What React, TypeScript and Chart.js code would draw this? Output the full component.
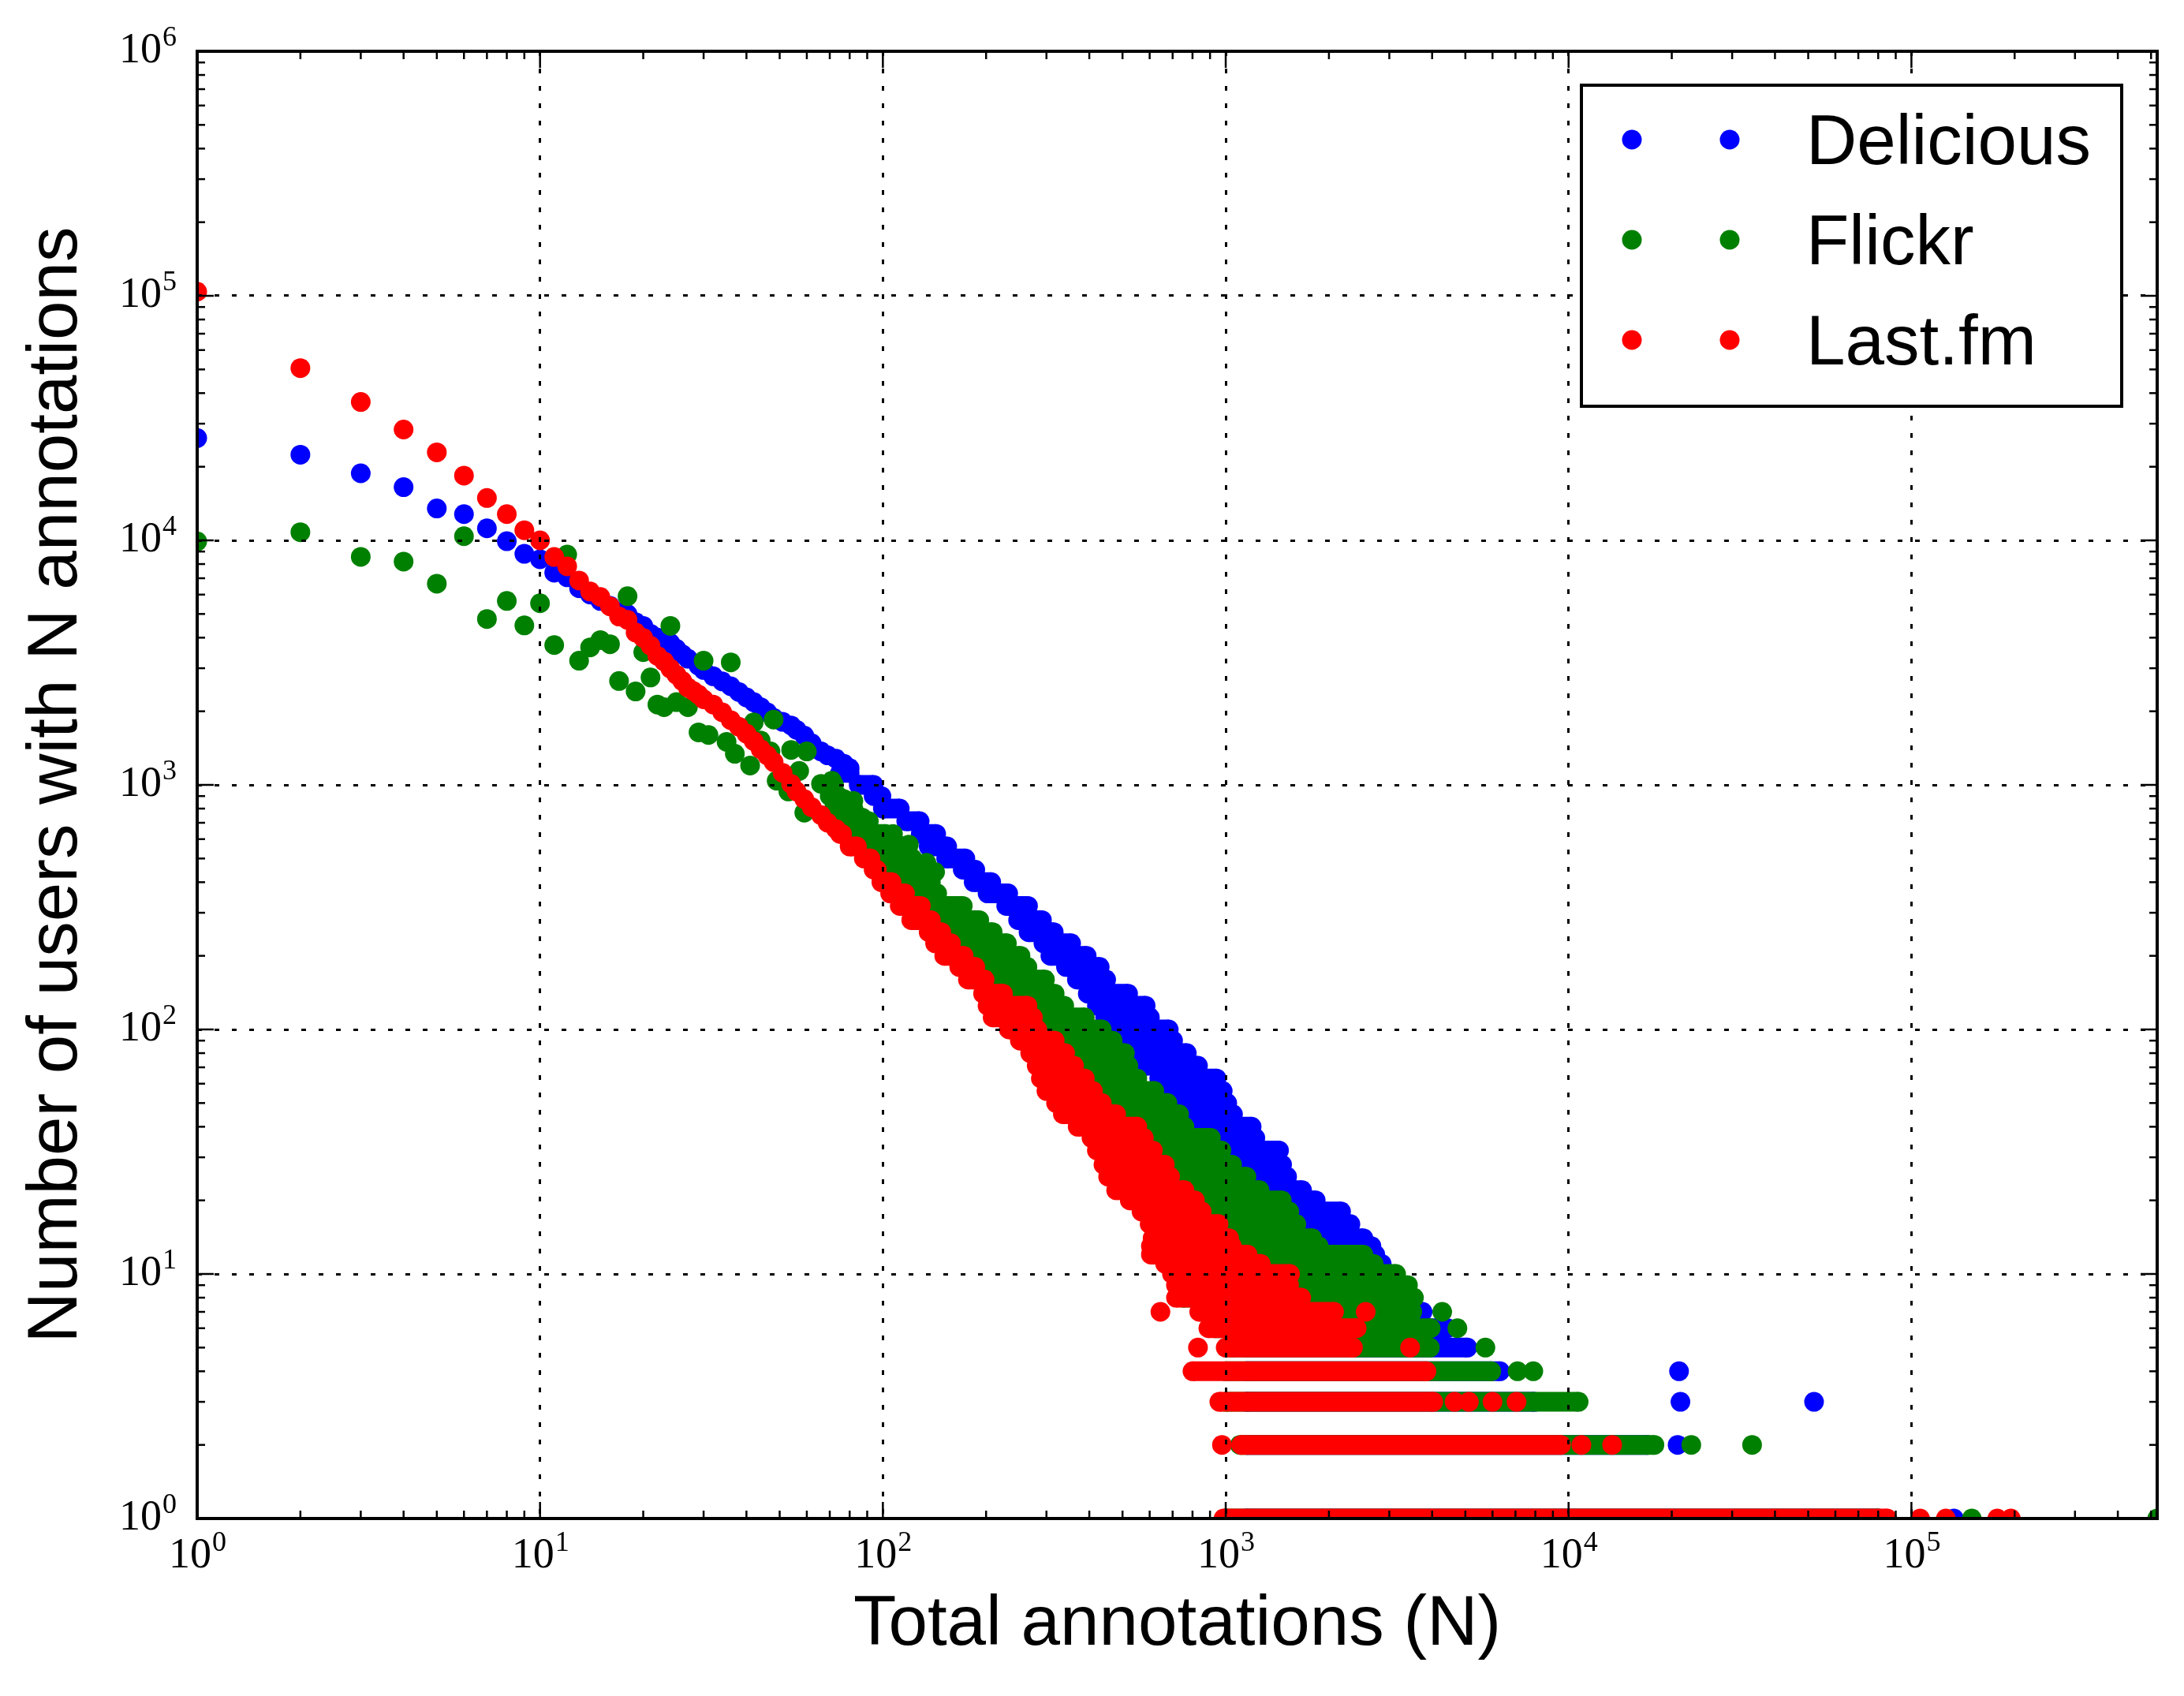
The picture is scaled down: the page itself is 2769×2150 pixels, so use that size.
import { useEffect, useRef } from 'react';
import Chart from 'chart.js/auto';

// [N, users] for single points, [users, first N, last N] for runs of neighbouring N with the same count
type Pt = [number, number];
type Run = [number, number, number];

const seriesNames = ['Delicious', 'Flickr', 'Last.fm'];
const seriesColors = ['#0000ff', '#008000', '#ff0000'];

const xDecades = [0, 1, 2, 3, 4, 5];
const yDecades = [0, 1, 2, 3, 4, 5, 6];
const xMax = 521000;
const yMax = 1e6;

const xTitle = 'Total annotations (N)';
const yTitle = 'Number of users with N annotations';

const deliciousPoints: Pt[] = [
  [1, 26200], [2, 22400], [3, 18800], [4, 16500], [5, 13500], [6, 12800], [7, 11200], [8, 9920],
  [9, 8810], [10, 8370], [11, 7380], [12, 7060], [13, 6370], [14, 6000], [15, 5650], [16, 5400],
  [17, 5100], [18, 4990], [19, 4630], [20, 4470], [21, 4150], [22, 4000], [23, 3900], [24, 3800],
  [25, 3600], [26, 3420], [27, 3280], [29, 3070], [30, 2950], [32, 2780], [34, 2650], [36, 2530],
  [38, 2400], [40, 2280], [42, 2180], [44, 2080], [46, 1980], [48, 1880], [51, 1810], [54, 1750],
  [56, 1680], [59, 1590], [62, 1480], [66, 1370], [69, 1320], [73, 1280], [77, 1220], [80, 1170],
  [21000, 4], [21200, 3], [52000, 3], [20800, 2], [133000, 1],
];

const deliciousRuns: Run[] = [
  [1120, 75, 80], [1000, 85, 94], [900, 94, 99], [800, 100, 112], [710, 117, 128], [630, 129, 143],
  [560, 136, 154], [500, 153, 174], [450, 171, 186], [400, 184, 207], [360, 202, 232], [320, 229, 265],
  [280, 248, 291], [250, 266, 315], [225, 294, 354], [200, 308, 393], [180, 342, 429], [160, 368, 448],
  [140, 396, 519], [125, 421, 584], [112, 445, 601], [100, 483, 682], [90, 513, 702], [80, 536, 770],
  [71, 581, 830], [63, 640, 940], [56, 700, 980], [50, 750, 1010], [45, 800, 1050], [40, 850, 1190],
  [36, 900, 1220], [32, 950, 1430], [28, 1000, 1460], [25, 1050, 1510], [22, 1100, 1670], [20, 1150, 1830],
  [18, 1150, 2170], [16, 1150, 2310], [14, 1150, 2520], [13, 1150, 2660], [12, 1150, 2730], [11, 1150, 2850],
  [10, 1150, 3000], [9, 1150, 3100], [8, 1150, 3300], [7, 1150, 3750], [6, 1150, 4440], [5, 1150, 5070],
  [4, 1150, 6310], [3, 1150, 7950], [2, 1150, 17000], [1, 1150, 80000],
];

const flickrPoints: Pt[] = [
  [1, 9900], [2, 10800], [3, 8560], [4, 8190], [5, 6650], [6, 10400], [7, 4770], [8, 5650],
  [9, 4490], [10, 5530], [11, 3730], [12, 8750], [13, 3220], [14, 3650], [15, 3910], [16, 3760],
  [17, 2660], [18, 5910], [19, 2410], [20, 3490], [21, 2750], [22, 2130], [23, 2080], [24, 4470],
  [25, 2180], [27, 2080], [29, 1640], [30, 3220], [31, 1600], [35, 1500], [36, 3170], [37, 1340],
  [41, 1200], [42, 1800], [44, 1520], [47, 1370], [48, 1850], [49, 1040], [53, 940], [54, 1390],
  [57, 1140], [59, 770], [60, 1370], [66, 1010], [71, 1040], [77, 875], [82, 860], [87, 735],
  [91, 650], [107, 630], [119, 570], [134, 480], [142, 440],
  [5720, 5], [4740, 6], [4280, 7], [7100, 4], [7890, 4], [22800, 2], [34300, 2], [150000, 1], [521000, 1],
];

const flickrRuns: Run[] = [
  [1000, 70, 72], [900, 70, 74], [800, 72, 82], [710, 76, 91], [630, 80, 102], [560, 84, 115],
  [500, 92, 122], [450, 97, 135], [400, 104, 138], [360, 110, 144], [320, 118, 171], [280, 128, 191],
  [250, 140, 209], [225, 150, 230], [200, 160, 252], [180, 175, 264], [160, 185, 297], [140, 205, 317],
  [125, 215, 338], [112, 225, 388], [100, 245, 435], [90, 265, 468], [80, 280, 508], [71, 295, 520],
  [63, 305, 552], [56, 315, 619], [50, 335, 676], [45, 350, 731], [40, 390, 758], [36, 425, 905],
  [32, 440, 971], [28, 460, 1043], [25, 475, 1149], [22, 500, 1255], [20, 550, 1457], [18, 595, 1532],
  [16, 630, 1607], [14, 640, 1787], [13, 635, 1867], [12, 635, 2520], [11, 700, 2700], [10, 730, 3140],
  [9, 750, 3400], [8, 750, 3540], [7, 870, 3500], [6, 930, 3960], [5, 1040, 3940], [4, 1000, 5950],
  [3, 1000, 10700], [2, 1100, 17800], [1, 1000, 80000],
];

const lastfmPoints: Pt[] = [
  [1, 104000], [2, 50600], [3, 36800], [4, 28400], [5, 22900], [6, 18400], [7, 14900], [8, 12800],
  [9, 11000], [10, 10000], [11, 8550], [12, 7830], [13, 6850], [14, 6180], [15, 5870], [16, 5370],
  [17, 4880], [18, 4730], [19, 4200], [20, 3990], [21, 3710], [22, 3370], [23, 3200], [24, 2990],
  [25, 2820], [26, 2660], [27, 2500], [28, 2420], [29, 2340], [30, 2240], [32, 2130], [34, 1980],
  [36, 1840], [38, 1730], [40, 1620], [42, 1510], [44, 1400], [46, 1320], [48, 1240], [51, 1120],
  [54, 1010], [56, 940], [59, 875], [62, 810], [66, 752], [69, 700], [73, 660],
  [975, 2], [10900, 2], [13400, 2], [830, 5], [3450, 5], [645, 7], [2560, 7],
  [4650, 3], [5120, 3], [6000, 3], [7050, 3], [106000, 1], [126000, 1], [178000, 1], [195000, 1],
];

const lastfmRuns: Run[] = [
  [630, 75, 76], [560, 80, 84], [500, 88, 92], [450, 94, 96], [400, 99, 106], [360, 105, 116],
  [320, 112, 129], [280, 121, 138], [250, 136, 148], [225, 142, 158], [200, 151, 172], [180, 167, 186],
  [160, 177, 198], [140, 196, 224], [125, 202, 264], [112, 209, 274], [100, 233, 282], [90, 251, 317],
  [80, 269, 340], [71, 281, 361], [63, 289, 388], [56, 300, 410], [50, 320, 435], [45, 335, 479],
  [40, 370, 552], [36, 406, 577], [32, 421, 613], [28, 440, 664], [25, 454, 688], [22, 479, 758],
  [20, 525, 813], [18, 568, 851], [16, 600, 953], [14, 612, 1023], [13, 605, 1042], [12, 605, 1158],
  [11, 666, 1265], [10, 697, 1540], [9, 716, 1530], [8, 716, 1660], [7, 837, 2070], [6, 890, 2410],
  [5, 1000, 2350], [4, 800, 3850], [3, 958, 4030], [2, 1110, 9500], [1, 985, 85000],
];

// points stand alone (null after each), runs are drawn as a stroke between their two end points
function toData(points: Pt[], runs: Run[]) {
  const out: { x: number; y: number | null }[] = [];
  for (const [n, c] of points) out.push({ x: n, y: c }, { x: n, y: null });
  for (const [c, lo, hi] of runs) out.push({ x: lo, y: c }, { x: hi, y: c }, { x: hi, y: null });
  return out;
}

const DOT = 12.5;
const SANS = 'Liberation Sans';
const SERIF = 'Liberation Serif';

const decorPlugin = {
  id: 'decor',
  afterDraw(chart: any) {
    const { ctx, chartArea: a } = chart;
    const xs = chart.scales.x;
    const ys = chart.scales.y;
    ctx.save();
    ctx.strokeStyle = '#000';
    ctx.setLineDash([]);

    const line = (x1: number, y1: number, x2: number, y2: number, w: number) => {
      ctx.lineWidth = w;
      ctx.beginPath();
      ctx.moveTo(x1, y1);
      ctx.lineTo(x2, y2);
      ctx.stroke();
    };

    // inward ticks on all four sides
    for (const e of xDecades) {
      for (let k = 1; k <= 9; k++) {
        const v = k * Math.pow(10, e);
        if (v > xMax) break;
        const x = xs.getPixelForValue(v);
        const len = k === 1 ? 21 : 10;
        line(x, a.bottom, x, a.bottom - len, 2.5);
        line(x, a.top, x, a.top + len, 2.5);
      }
    }
    for (const e of yDecades) {
      for (let k = 1; k <= 9; k++) {
        const v = k * Math.pow(10, e);
        if (v > yMax) break;
        const y = ys.getPixelForValue(v);
        const len = k === 1 ? 21 : 10;
        line(a.left, y, a.left + len, y, 2.5);
        line(a.right, y, a.right - len, y, 2.5);
      }
    }

    ctx.lineWidth = 4;
    ctx.strokeRect(a.left, a.top, a.right - a.left, a.bottom - a.top);

    // tick labels 10^k
    ctx.fillStyle = '#000';
    ctx.textBaseline = 'alphabetic';
    ctx.textAlign = 'left';
    const big = `54px "${SERIF}"`;
    const small = `36px "${SERIF}"`;
    const measure = (e: number) => {
      ctx.font = big;
      const w1 = ctx.measureText('10').width;
      ctx.font = small;
      const w2 = ctx.measureText(String(e)).width;
      return [w1, w2];
    };
    const label = (e: number, left: number, base: number) => {
      const [w1] = measure(e);
      ctx.font = big;
      ctx.fillText('10', left, base);
      ctx.font = small;
      ctx.fillText(String(e), left + w1 + 1, base - 21);
    };
    for (const e of xDecades) {
      const x = xs.getPixelForValue(Math.pow(10, e));
      const [w1, w2] = measure(e);
      label(e, x - (w1 + w2) / 2, a.bottom + 62);
    }
    for (const e of yDecades) {
      const y = ys.getPixelForValue(Math.pow(10, e));
      const [w1, w2] = measure(e);
      label(e, a.left - 27 - w1 - w2, y + 14);
    }

    // legend
    const box = { l: 2005, t: 108, r: 2690, b: 515 };
    ctx.fillStyle = '#fff';
    ctx.fillRect(box.l, box.t, box.r - box.l, box.b - box.t);
    ctx.lineWidth = 4;
    ctx.strokeRect(box.l, box.t, box.r - box.l, box.b - box.t);
    ctx.font = `89px "${SANS}"`;
    chart.data.datasets.forEach((ds: any, i: number) => {
      const y = 177 + i * 127;
      ctx.fillStyle = ds.backgroundColor;
      for (const x of [2069, 2193]) {
        ctx.beginPath();
        ctx.arc(x, y, DOT, 0, Math.PI * 2);
        ctx.fill();
      }
      ctx.fillStyle = '#000';
      ctx.fillText(ds.label, 2290, y + 31);
    });
    ctx.restore();
  },
};

function decadeTicks(decades: number[]) {
  return (scale: any) => {
    scale.ticks = decades.map((e) => ({ value: Math.pow(10, e), major: true }));
  };
}

export default function App() {
  const canvasRef = useRef<HTMLCanvasElement>(null);

  useEffect(() => {
    if (!canvasRef.current) return;
    document.body.style.margin = '0';

    const all = [
      toData(deliciousPoints, deliciousRuns),
      toData(flickrPoints, flickrRuns),
      toData(lastfmPoints, lastfmRuns),
    ];

    const chart = new Chart(canvasRef.current, {
      type: 'scatter',
      data: {
        datasets: all.map((data, i) => ({
          label: seriesNames[i],
          data,
          showLine: true,
          spanGaps: false,
          borderColor: seriesColors[i],
          backgroundColor: seriesColors[i],
          borderWidth: DOT * 2,
          borderCapStyle: 'butt',
          pointRadius: DOT,
          pointBorderWidth: 0,
          pointBackgroundColor: seriesColors[i],
          pointBorderColor: seriesColors[i],
          clip: 0,
          order: 2 - i,
        })),
      },
      options: {
        responsive: false,
        animation: false,
        events: [],
        layout: { padding: { top: 65, right: 34, bottom: 0, left: 0 } },
        plugins: { legend: { display: false }, tooltip: { enabled: false } },
        scales: {
          x: {
            type: 'logarithmic',
            position: 'bottom',
            min: 1,
            max: xMax,
            afterBuildTicks: decadeTicks(xDecades),
            afterFit: (s: any) => { s.height = 225; },
            ticks: { display: false },
            grid: { color: '#000', lineWidth: 3, drawTicks: false, z: 1 },
            border: { display: false, dash: [6, 16] },
            title: {
              display: true,
              text: xTitle,
              color: '#000',
              font: { family: SANS, size: 89 },
              padding: { top: 0, bottom: 36 },
            },
          },
          y: {
            type: 'logarithmic',
            position: 'left',
            min: 1,
            max: yMax,
            afterBuildTicks: decadeTicks(yDecades),
            afterFit: (s: any) => { s.width = 250; },
            ticks: { display: false },
            grid: { color: '#000', lineWidth: 3, drawTicks: false, z: 1 },
            border: { display: false, dash: [6, 16] },
            title: {
              display: true,
              text: yTitle,
              color: '#000',
              font: { family: SANS, size: 89 },
              padding: { top: 19, bottom: 0 },
            },
          },
        },
      },
      plugins: [decorPlugin],
    } as any);

    return () => chart.destroy();
  }, []);

  return (
    <canvas
      ref={canvasRef}
      width={2769}
      height={2150}
      style={{ display: 'block', width: 2769, height: 2150 }}
    />
  );
}
